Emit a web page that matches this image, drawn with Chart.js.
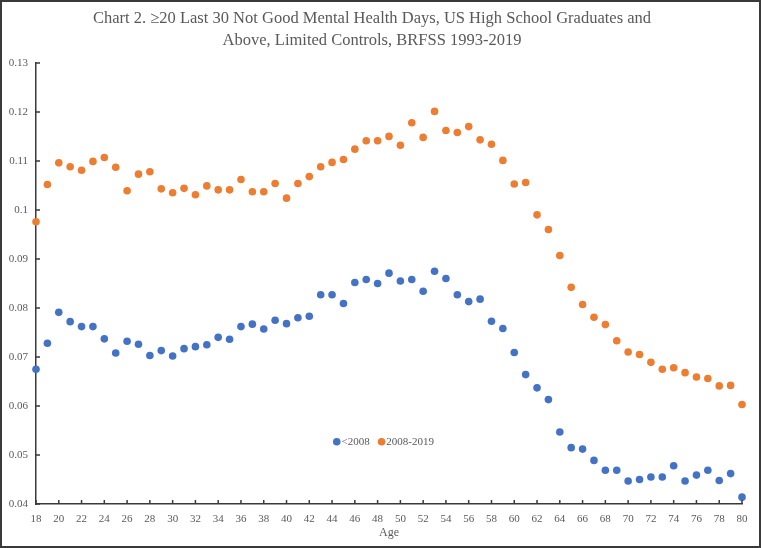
<!DOCTYPE html>
<html lang="en">
<head>
    <meta charset="UTF-8">
    <title>Chart 2</title>
    <style>
        body {
            margin: 0;
            background: #fff;
        }

        .frame {
            width: 761px;
            height: 548px;
            box-sizing: border-box;
            border: 2px solid #3a3a3a;
            background: #fff;
        }

        canvas {
            display: block;
        }
    </style>
</head>
<body>
    <div class="frame">
        <canvas id="chart" width="757" height="544"></canvas>
    </div>

    <script src="https://cdn.jsdelivr.net/npm/chart.js"></script>
    <script>
        // ages on the x axis
        const ages = [18, 19, 20, 21, 22, 23, 24, 25, 26, 27, 28, 29, 30, 31, 32, 33, 34, 35, 36, 37, 38, 39, 40,
            41, 42, 43, 44, 45, 46, 47, 48, 49, 50, 51, 52, 53, 54, 55, 56, 57, 58, 59, 60, 61, 62, 63, 64,
            65, 66, 67, 68, 69, 70, 71, 72, 73, 74, 75, 76, 77, 78, 79, 80];

        // share reporting >=20 bad mental health days, before 2008
        const before2008 = [0.0675, 0.0728, 0.0791, 0.0772, 0.0762, 0.0762, 0.0737, 0.0708, 0.0732, 0.0726,
            0.0703, 0.0713, 0.0702, 0.0717, 0.0721, 0.0725, 0.0740, 0.0736, 0.0762, 0.0767, 0.0757, 0.0775,
            0.0768, 0.0780, 0.0783, 0.0827, 0.0827, 0.0809, 0.0852, 0.0858, 0.0850, 0.0871, 0.0855, 0.0858,
            0.0834, 0.0875, 0.0860, 0.0827, 0.0813, 0.0818, 0.0773, 0.0758, 0.0709, 0.0664, 0.0637, 0.0613,
            0.0547, 0.0515, 0.0512, 0.0489, 0.0469, 0.0469, 0.0447, 0.0450, 0.0455, 0.0455, 0.0478, 0.0447,
            0.0459, 0.0469, 0.0448, 0.0462, 0.0414];

        // same, 2008-2019
        const from2008 = [0.0976, 0.1052, 0.1096, 0.1088, 0.1081, 0.1099, 0.1107, 0.1087, 0.1039, 0.1073,
            0.1078, 0.1043, 0.1035, 0.1044, 0.1031, 0.1049, 0.1041, 0.1041, 0.1062, 0.1037, 0.1037, 0.1054,
            0.1024, 0.1054, 0.1068, 0.1088, 0.1097, 0.1103, 0.1124, 0.1141, 0.1141, 0.1150, 0.1132, 0.1178,
            0.1148, 0.1201, 0.1162, 0.1158, 0.1170, 0.1143, 0.1134, 0.1101, 0.1053, 0.1056, 0.0990, 0.0960,
            0.0907, 0.0842, 0.0807, 0.0781, 0.0766, 0.0733, 0.0710, 0.0705, 0.0689, 0.0675, 0.0678, 0.0668,
            0.0659, 0.0656, 0.0641, 0.0642, 0.0603];

        const seriesNames = ['<2008', '2008-2019'];
        const titleLines = ['Chart 2. \u226520 Last 30 Not Good Mental Health Days, US High School Graduates and',
            'Above, Limited Controls, BRFSS 1993-2019'];

        const serif = "'Liberation Serif', 'Times New Roman', serif";
        const grey = '#595959';
        const axisColor = '#3a3a3a';

        function toPoints(values) {
            return ages.map((a, i) => ({ x: a, y: values[i] }));
        }

        // small ticks pointing into the plot, like the original
        const innerTicks = {
            id: 'innerTicks',
            afterDraw(chart) {
                const ctx = chart.ctx;
                const area = chart.chartArea;
                const xs = chart.scales.x;
                const ys = chart.scales.y;
                ctx.save();
                ctx.strokeStyle = axisColor;
                ctx.lineWidth = 1.5;
                ctx.beginPath();
                xs.ticks.forEach(t => {
                    const px = xs.getPixelForValue(t.value);
                    ctx.moveTo(px, area.bottom);
                    ctx.lineTo(px, area.bottom - 4);
                });
                ys.ticks.forEach(t => {
                    const py = ys.getPixelForValue(t.value);
                    ctx.moveTo(area.left, py);
                    ctx.lineTo(area.left + 4, py);
                });
                ctx.stroke();
                ctx.restore();
            }
        };

        // legend sits inside the plot area
        const innerLegend = {
            id: 'innerLegend',
            afterDraw(chart) {
                const ctx = chart.ctx;
                const area = chart.chartArea;
                const r = 3.8;
                let x = area.left + (area.right - area.left) * 0.426 - r;
                const y = area.top + (area.bottom - area.top) * 0.859;
                ctx.save();
                ctx.font = '11px ' + serif;
                ctx.textBaseline = 'middle';
                chart.data.datasets.forEach(ds => {
                    ctx.fillStyle = ds.backgroundColor;
                    ctx.beginPath();
                    ctx.arc(x + r, y, r, 0, Math.PI * 2);
                    ctx.fill();
                    ctx.fillStyle = grey;
                    ctx.fillText(ds.label, x + 2 * r + 1, y + 0.5);
                    x += 2 * r + 1 + ctx.measureText(ds.label).width + 8;
                });
                ctx.restore();
            }
        };

        new Chart(document.getElementById('chart'), {
            type: 'scatter',
            data: {
                datasets: [{
                    label: seriesNames[0],
                    data: toPoints(before2008),
                    backgroundColor: '#4472C4',
                    borderWidth: 0,
                    pointRadius: 3.8,
                    clip: false
                }, {
                    label: seriesNames[1],
                    data: toPoints(from2008),
                    backgroundColor: '#ED7D31',
                    borderWidth: 0,
                    pointRadius: 3.8,
                    clip: false
                }]
            },
            options: {
                responsive: false,
                animation: false,
                events: [],
                layout: {
                    padding: { left: 0, right: 17, top: 0, bottom: 0 }
                },
                plugins: {
                    legend: { display: false },
                    tooltip: { enabled: false },
                    title: {
                        display: true,
                        text: titleLines,
                        color: grey,
                        font: { family: serif, size: 16.5, weight: 'normal', lineHeight: 1.33 },
                        padding: { top: 6, bottom: 11 }
                    }
                },
                scales: {
                    x: {
                        type: 'linear',
                        min: 18,
                        max: 80,
                        grid: { display: false, drawTicks: false },
                        border: { display: true, color: axisColor, width: 1.5 },
                        ticks: {
                            stepSize: 2,
                            padding: 9,
                            color: grey,
                            font: { family: serif, size: 11 },
                            maxRotation: 0
                        },
                        title: {
                            display: true,
                            text: 'Age',
                            color: grey,
                            font: { family: serif, size: 12 },
                            padding: { top: 0, bottom: 6 }
                        },
                        afterFit(scale) {
                            scale.height = 42;
                        }
                    },
                    y: {
                        min: 0.04,
                        max: 0.13,
                        grid: { display: false, drawTicks: false },
                        border: { display: true, color: axisColor, width: 1.5 },
                        ticks: {
                            stepSize: 0.01,
                            padding: 8,
                            color: grey,
                            font: { family: serif, size: 11 },
                            callback: v => String(Number(v.toFixed(2)))
                        },
                        afterFit(scale) {
                            scale.width = 34;
                        }
                    }
                }
            },
            plugins: [innerTicks, innerLegend]
        });
    </script>
</body>
</html>
